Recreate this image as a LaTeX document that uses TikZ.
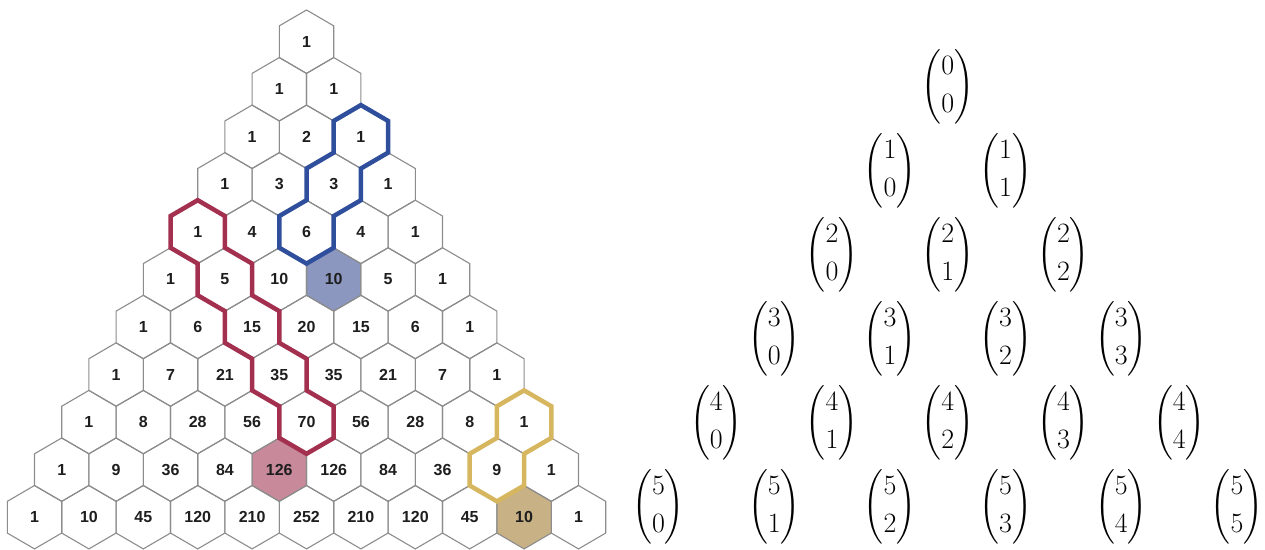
\RequirePackage{fix-cm}
\documentclass[tikz,border=0pt]{standalone}
\usepackage{amsmath}
\usepackage{exscale}
\usepackage{fontspec}
\newfontfamily\cellfont{Liberation Sans}
\usetikzlibrary{calc}
\pgfdeclarelayer{fillbg}
\pgfdeclarelayer{gridbg}
\pgfsetlayers{fillbg,gridbg,main}
\definecolor{hexgray}{HTML}{8C8C8C}
\definecolor{blueline}{HTML}{2F4F9C}
\definecolor{bluefill}{HTML}{8B97BF}
\definecolor{redline}{HTML}{A3304F}
\definecolor{redfill}{HTML}{C88A9A}
\definecolor{goldline}{HTML}{D6B65E}
\definecolor{goldfill}{HTML}{C8B185}
\definecolor{celltext}{HTML}{1E1E1E}
\def\hexA{27.2}
\def\hexR{31.7}
\newcommand\hexshape[1]{(#1.center) +(0,\hexR) -- +(\hexA,0.5*\hexR) -- +(\hexA,-0.5*\hexR) -- +(0,-\hexR) -- +(-\hexA,-0.5*\hexR) -- +(-\hexA,0.5*\hexR) -- cycle}
\newcommand\hxT[1]{($(#1.center)+(0,\hexR)$)}
\newcommand\hxUR[1]{($(#1.center)+(\hexA,0.5*\hexR)$)}
\newcommand\hxLR[1]{($(#1.center)+(\hexA,-0.5*\hexR)$)}
\newcommand\hxB[1]{($(#1.center)+(0,-\hexR)$)}
\newcommand\hxLL[1]{($(#1.center)+(-\hexA,-0.5*\hexR)$)}
\newcommand\hxUL[1]{($(#1.center)+(-\hexA,0.5*\hexR)$)}
\tikzset{
  cell/.style={font=\cellfont\bfseries\fontsize{16}{16}\selectfont, text=celltext, inner sep=0pt},
  hexline/.style={draw=hexgray, line width=1.1pt},
  binomnode/.style={font=\fontsize{28}{34}\selectfont, inner sep=0pt},
  outline/.style={line width=4.5pt, line join=miter},
}
\begin{document}
\begin{tikzpicture}[x=1pt,y=1pt]
\useasboundingbox (0,0) rectangle (1265,549);
% Pascal triangle of hexagons
\foreach \n/\row in {0/{1},1/{1,1},2/{1,2,1},3/{1,3,3,1},4/{1,4,6,4,1},5/{1,5,10,10,5,1},6/{1,6,15,20,15,6,1},7/{1,7,21,35,35,21,7,1},8/{1,8,28,56,70,56,28,8,1},9/{1,9,36,84,126,126,84,36,9,1},10/{1,10,45,120,210,252,210,120,45,10,1}}{
  \foreach \v [count=\k from 0] in \row {
    \pgfmathsetmacro\cx{306.5+(\k-\n/2)*54.4}
    \pgfmathsetmacro\cy{549-41.7-\n*47.55}
    \node[cell] (c-\n-\k) at (\cx,\cy) {\v};
    \begin{pgfonlayer}{gridbg}
      \draw[hexline] \hexshape{c-\n-\k};
    \end{pgfonlayer}
  }
}
\begin{pgfonlayer}{fillbg}
  \fill[bluefill] \hexshape{c-5-3};
  \fill[redfill] \hexshape{c-9-4};
  \fill[goldfill] \hexshape{c-10-9};
\end{pgfonlayer}
% blue hockey stick
\draw[outline, blueline] \hxT{c-2-2} -- \hxUR{c-2-2} -- \hxLR{c-2-2} -- \hxB{c-2-2} -- \hxLR{c-3-2} -- \hxB{c-3-2} -- \hxLR{c-4-2} -- \hxB{c-4-2} -- \hxLL{c-4-2} -- \hxUL{c-4-2} -- \hxT{c-4-2} -- \hxUL{c-3-2} -- \hxT{c-3-2} -- \hxUL{c-2-2} -- cycle;
% red hockey stick
\draw[outline, redline] \hxT{c-4-0} -- \hxUR{c-4-0} -- \hxLR{c-4-0} -- \hxUR{c-5-1} -- \hxLR{c-5-1} -- \hxUR{c-6-2} -- \hxLR{c-6-2} -- \hxUR{c-7-3} -- \hxLR{c-7-3} -- \hxUR{c-8-4} -- \hxLR{c-8-4} -- \hxB{c-8-4} -- \hxLL{c-8-4} -- \hxUL{c-8-4} -- \hxLL{c-7-3} -- \hxB{c-6-2} -- \hxLL{c-6-2} -- \hxB{c-5-1} -- \hxLL{c-5-1} -- \hxB{c-4-0} -- \hxLL{c-4-0} -- \hxUL{c-4-0} -- cycle;
% gold hockey stick
\draw[outline, goldline] \hxT{c-8-8} -- \hxUR{c-8-8} -- \hxLR{c-8-8} -- \hxB{c-8-8} -- \hxLR{c-9-8} -- \hxB{c-9-8} -- \hxLL{c-9-8} -- \hxUL{c-9-8} -- \hxT{c-9-8} -- \hxUL{c-8-8} -- cycle;
% binomial coefficients
\foreach \m in {0,...,5}{
  \foreach \j in {0,...,\m}{
    \pgfmathsetmacro\bx{947.8+(\j-\m/2)*115.7}
    \pgfmathsetmacro\by{549-86.7-\m*84}
    \node[binomnode] (b-\m-\j) at (\bx,\by) {$\displaystyle\binom{\m}{\j}$};
  }
}
\end{tikzpicture}
\end{document}
